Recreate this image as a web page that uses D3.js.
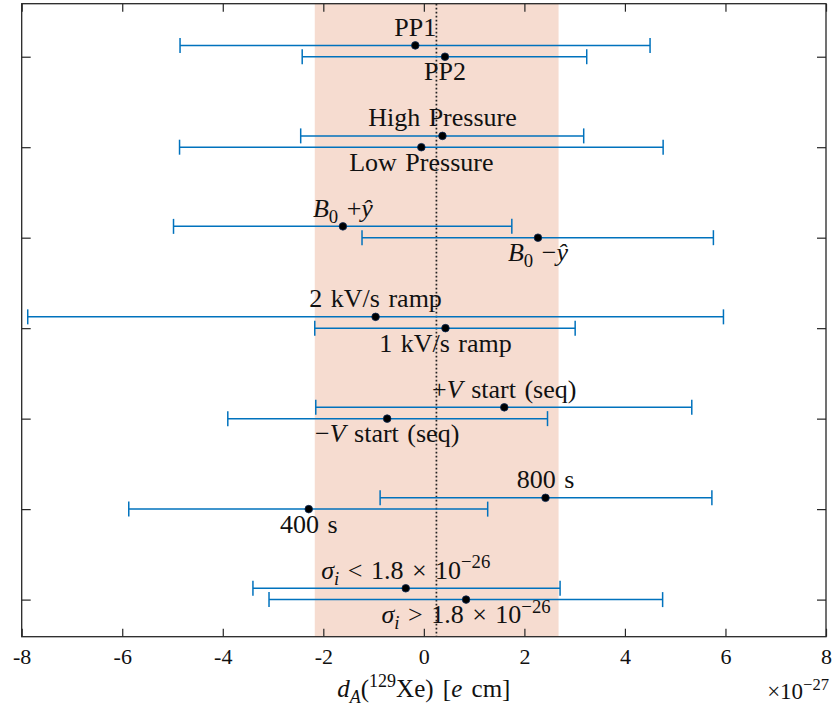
<!DOCTYPE html>
<html>
<head>
<meta charset="utf-8">
<script src="https://cdn.jsdelivr.net/npm/d3@7"></script>
<style>
  html, body { margin: 0; padding: 0; background: #fff; }
  svg { display: block; }
  svg text, svg tspan { font-family: "Liberation Serif", "DejaVu Serif", serif; }
</style>
</head>
<body>
<svg id="chart" width="833" height="715"></svg>
<script>
// ---------------- data ----------------
const labels = [
  [{t:"PP1"}],
  [{t:"PP2"}],
  [{t:"High Pressure"}],
  [{t:"Low Pressure"}],
  [{t:"B",i:1},{t:"0",sub:1},{t:" +"},{t:"ŷ",i:1}],
  [{t:"B",i:1},{t:"0",sub:1},{t:" −"},{t:"ŷ",i:1}],
  [{t:"2 kV/s ramp"}],
  [{t:"1 kV/s ramp"}],
  [{t:"+"},{t:"V",i:1},{t:" start (seq)"}],
  [{t:"−"},{t:"V",i:1},{t:" start (seq)"}],
  [{t:"800 s"}],
  [{t:"400 s"}],
  [{t:"σ",i:1},{t:"i",i:1,sub:1},{t:" < 1.8 × 10"},{t:"−26",sup:1}],
  [{t:"σ",i:1},{t:"i",i:1,sub:1},{t:" > 1.8 × 10"},{t:"−26",sup:1}]
];
const rowIndex  = [0,0,1,1,2,2,3,3,4,4,5,5,6,6];
const isUpper   = [1,0,1,0,1,0,1,0,1,0,1,0,1,0];
const centers   = [-0.17, 0.42, 0.37, -0.05, -1.61, 2.27, -0.96, 0.43, 1.60, -0.73, 2.42, -2.29, -0.36, 0.84];
const lows      = [-4.85, -2.42, -2.45, -4.86, -4.98, -1.23, -7.88, -2.17, -2.15, -3.90, -0.87, -5.87, -3.40, -3.08];
const highs     = [4.50, 3.24, 3.18, 4.76, 1.75, 5.76, 5.96, 3.01, 5.33, 2.46, 5.73, 1.27, 2.71, 4.75];
const bandRange = [-2.17, 2.68];
const refLine   = 0.25;
const xTicks    = [-8,-6,-4,-2,0,2,4,6,8];
const yTicks    = [0,1,2,3,4,5,6];
const xDomain   = [-8, 8];
const yDomain   = [-0.586, 6.41];
const xLabel    = [{t:"d",i:1},{t:"A",i:1,sub:1},{t:"("},{t:"129",sup:1},{t:"Xe)  ["},{t:"e",i:1},{t:" cm]"}];
const xExponent = [{t:"×10"},{t:"−27",sup:1}];

// ---------------- layout ----------------
const L = 21.7, R = 826, T = 3.7, B = 636.7;
const svg = d3.select("#chart");
const x = d3.scaleLinear().domain(xDomain).range([L, R]);
const y = d3.scaleLinear().domain(yDomain).range([T, B]);
const upperOffset = 0.125;
const barY = i => y(rowIndex[i] - (isUpper[i] ? upperOffset : 0));

const BLUE = "#0072BD";
const AX = "#262626";

// rich text helper
function rich(sel, segs, size) {
  let shift = 0;
  segs.forEach(s => {
    const target = s.sub ? 0.22 : (s.sup ? -0.4 : 0);
    const fs = (s.sub || s.sup) ? size * 0.72 : size;
    const ts = sel.append("tspan").text(s.t)
      .attr("font-size", fs)
      .attr("dy", (target - shift) * size);
    if (s.i) ts.attr("font-style", "italic");
    shift = target;
  });
}

// band
svg.append("rect")
  .attr("x", x(bandRange[0])).attr("y", T)
  .attr("width", x(bandRange[1]) - x(bandRange[0]))
  .attr("height", B - T)
  .attr("fill", "#F6DCD0");

// reference dotted line
svg.append("line")
  .attr("x1", x(refLine)).attr("x2", x(refLine))
  .attr("y1", T).attr("y2", B)
  .attr("stroke", "#222").attr("stroke-width", 1.7)
  .attr("stroke-dasharray", "1.7,2.3");

// axes (box with inward ticks)
const axB = d3.axisBottom(x).tickValues(xTicks).tickSize(-8).tickPadding(12).tickFormat(d => String(d));
const axT = d3.axisTop(x).tickValues(xTicks).tickSize(-8).tickFormat("");
const axL = d3.axisLeft(y).tickValues(yTicks).tickSize(-9).tickFormat("");
const axR = d3.axisRight(y).tickValues(yTicks).tickSize(-9).tickFormat("");

function styleAxis(g) {
  g.attr("font-family", null);
  g.select(".domain").remove();
  g.selectAll(".tick line").attr("stroke", AX).attr("stroke-width", 1.2);
  g.selectAll(".tick text").attr("fill", "#111").attr("font-size", 22);
}
svg.append("g").attr("transform", `translate(0,${B})`).call(axB).call(styleAxis);
svg.append("g").attr("transform", `translate(0,${T})`).call(axT).call(styleAxis);
svg.append("g").attr("transform", `translate(${L},0)`).call(axL).call(styleAxis);
svg.append("g").attr("transform", `translate(${R},0)`).call(axR).call(styleAxis);

svg.append("rect")
  .attr("x", L).attr("y", T).attr("width", R - L).attr("height", B - T)
  .attr("fill", "none").attr("stroke", AX).attr("stroke-width", 1.3);

// error bars
const idx = d3.range(centers.length);
const g = svg.append("g");
g.selectAll("line.bar").data(idx).join("line").attr("class","bar")
  .attr("x1", i => x(lows[i])).attr("x2", i => x(highs[i]))
  .attr("y1", barY).attr("y2", barY)
  .attr("stroke", BLUE).attr("stroke-width", 1.5);
[lows, highs].forEach(arr => {
  g.selectAll(null).data(idx).join("line")
    .attr("x1", i => x(arr[i])).attr("x2", i => x(arr[i]))
    .attr("y1", i => barY(i) - 7.5).attr("y2", i => barY(i) + 7.5)
    .attr("stroke", BLUE).attr("stroke-width", 1.5);
});
g.selectAll("circle").data(idx).join("circle")
  .attr("cx", i => x(centers[i])).attr("cy", barY)
  .attr("r", 3.8).attr("fill", "#000").attr("stroke", "#0a2a55").attr("stroke-width", 0.8);

// labels
idx.forEach(i => {
  const t = svg.append("text")
    .attr("x", x(centers[i]))
    .attr("y", isUpper[i] ? barY(i) - 9.5 : barY(i) + 23.5)
    .attr("text-anchor", "middle")
    .attr("word-spacing", 2)
    .attr("fill", "#111");
  rich(t, labels[i], 26);
});

// x label
const xl = svg.append("text").attr("x", (L + R) / 2).attr("y", 697)
  .attr("text-anchor", "middle").attr("word-spacing", 3).attr("fill", "#111");
rich(xl, xLabel, 25);

const xe = svg.append("text").attr("x", 829).attr("y", 699)
  .attr("text-anchor", "end").attr("fill", "#111");
rich(xe, xExponent, 23);
</script>
</body>
</html>
